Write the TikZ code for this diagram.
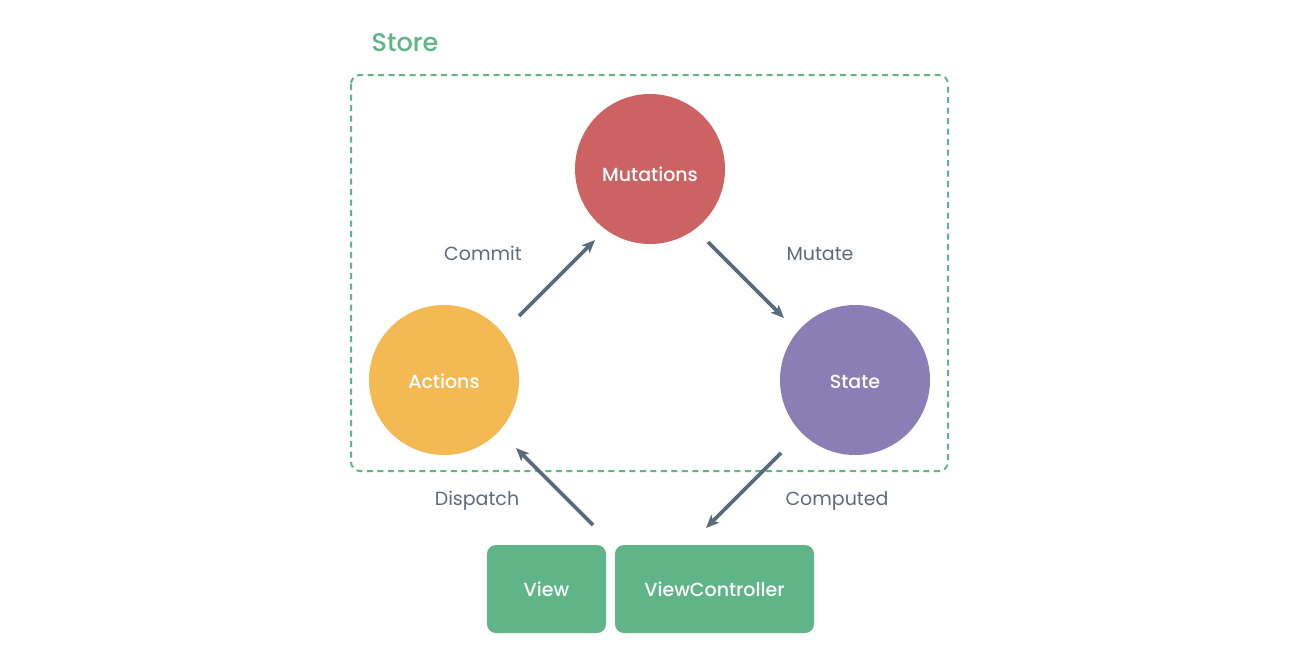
\documentclass[tikz,border=0pt]{standalone}
\usepackage{fontspec}
\setmainfont{Poppins}[BoldFont={Poppins Medium}]
\usetikzlibrary{arrows.meta}
\definecolor{mutc}{HTML}{CC6262}
\definecolor{actc}{HTML}{F3B952}
\definecolor{stac}{HTML}{8B7EB4}
\definecolor{grn}{HTML}{5FB587}
\definecolor{arr}{HTML}{5A6B7B}
\definecolor{lbl}{HTML}{5F6B7B}
\begin{document}
\begin{tikzpicture}[x=1pt,y=-1pt,
  circ/.style={circle,minimum size=150pt,inner sep=0pt},
  rbox/.style={rectangle,rounded corners=9pt,fill=grn,minimum height=88pt,inner sep=0pt},
  wtxt/.style={anchor=base,inner sep=0pt,text=white,font=\fontsize{19}{22}\selectfont\bfseries},
  flow/.style={draw=arr,line width=3.6pt,-{Stealth[length=13pt,width=11pt,inset=3pt]}},
  lab/.style={anchor=base,inner sep=0pt,text=lbl,font=\fontsize{19}{22}\selectfont}]
\useasboundingbox (0,0) rectangle (1300,664);
\fill[white] (0,0) rectangle (1300,664);
\draw[grn,line width=2pt,dash pattern=on 6pt off 4.5pt,rounded corners=9pt] (351,75) rectangle (948,471);
\node[anchor=base,inner sep=0pt,text=grn,font=\fontsize{25.5}{28}\selectfont\bfseries] (store) at (405,51) {Store};
\node[circ,fill=mutc] (mut) at (650,169) {};
\node[circ,fill=actc] (act) at (444,380) {};
\node[circ,fill=stac] (sta) at (855,380) {};
\node[wtxt] (mutt) at (650,181) {Mutations};
\node[wtxt] (actt) at (444,388) {Actions};
\node[wtxt] (stat) at (855,388) {State};
\node[rbox,minimum width=119pt] (view) at (546.5,589) {};
\node[rbox,minimum width=199pt] (vc) at (714.5,589) {};
\node[wtxt] (viewt) at (546.5,596) {View};
\node[wtxt] (vct) at (714.5,596) {ViewController};
\coordinate (c1) at (519,316); \coordinate (c2) at (595,240);
\coordinate (m1) at (708,242); \coordinate (m2) at (784,318);
\coordinate (d1) at (593,525); \coordinate (d2) at (516,448);
\coordinate (p1) at (781,453); \coordinate (p2) at (706,528);
\draw[flow] (c1) -- (c2);
\draw[flow] (m1) -- (m2);
\draw[flow] (d1) -- (d2);
\draw[flow] (p1) -- (p2);
\node[lab] (lc) at (483,260) {Commit};
\node[lab] (lm) at (820,260) {Mutate};
\node[lab] (ld) at (477,505) {Dispatch};
\node[lab] (lp) at (837,505) {Computed};
\end{tikzpicture}
\end{document}
